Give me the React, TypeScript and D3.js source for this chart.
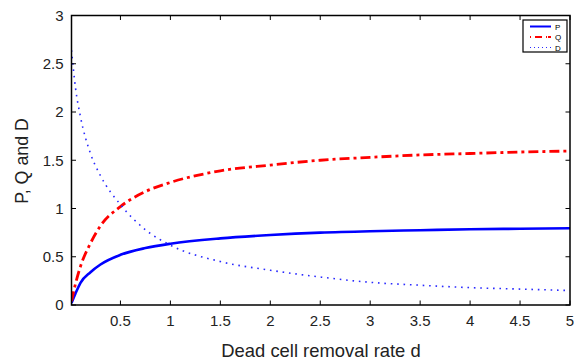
import React, { useEffect, useRef } from 'react';
import * as d3 from 'd3';

// values
const dValues = [0.01, 0.05, 0.1, 0.2, 0.3, 0.5, 0.75, 1, 1.5, 2, 2.5, 3, 3.5, 4, 4.5, 5];
const pValues = [0.02, 0.12, 0.23, 0.34, 0.42, 0.52, 0.59, 0.635, 0.69, 0.725, 0.75, 0.765, 0.775, 0.785, 0.79, 0.795];
const qValues = [0.04, 0.22, 0.4, 0.64, 0.82, 1.02, 1.175, 1.27, 1.39, 1.45, 1.5, 1.53, 1.555, 1.57, 1.585, 1.595];
const dDead = [2.64, 2.25, 1.95, 1.57, 1.34, 1.04, 0.78, 0.62, 0.45, 0.36, 0.29, 0.235, 0.205, 0.18, 0.165, 0.15];

const xTicks = [0.5, 1, 1.5, 2, 2.5, 3, 3.5, 4, 4.5, 5];
const yTicks = [0, 0.5, 1, 1.5, 2, 2.5, 3];

const seriesNames = ['P', 'Q', 'D'];

const W = 574;
const H = 360;

export default function App() {
  const svgRef = useRef<SVGSVGElement>(null);

  useEffect(() => {
    if (!svgRef.current) return;
    const svg = d3.select(svgRef.current);
    svg.selectAll('*').remove();

    const left = 71.5;
    const right = 570;
    const top = 15.5;
    const bottom = 305;

    const x = d3.scaleLinear().domain([0.01, 5]).range([left, right]);
    const y = d3.scaleLinear().domain([0, 3]).range([bottom, top]);
    const font = 'Liberation Sans, Arial, Helvetica, sans-serif';

    const styles = [
      { color: '#0000ff', width: 2.6, dash: null as string | null, values: pValues },
      { color: '#ff0000', width: 2.8, dash: '10,4,3,4', values: qValues },
      { color: '#2a2aff', width: 1.6, dash: '1.6,4.8', values: dDead },
    ];

    const clip = svg.append('clipPath').attr('id', 'plotClip');
    clip.append('rect').attr('x', left).attr('y', top).attr('width', right - left).attr('height', bottom - top);

    const line = d3
      .line<number>()
      .x((_, i) => x(dValues[i]))
      .y(v => y(v))
      .curve(d3.curveMonotoneX);

    const plot = svg.append('g').attr('clip-path', 'url(#plotClip)');
    styles.forEach(s => {
      plot
        .append('path')
        .datum(s.values)
        .attr('d', line)
        .attr('fill', 'none')
        .attr('stroke', s.color)
        .attr('stroke-width', s.width)
        .attr('stroke-dasharray', s.dash);
    });

    // box
    svg
      .append('rect')
      .attr('x', left)
      .attr('y', top)
      .attr('width', right - left)
      .attr('height', bottom - top)
      .attr('fill', 'none')
      .attr('stroke', '#000')
      .attr('stroke-width', 1.5);

    const tickLen = 4.5;
    xTicks.forEach(t => {
      const xp = x(t);
      svg.append('line').attr('x1', xp).attr('x2', xp).attr('y1', bottom).attr('y2', bottom - tickLen).attr('stroke', '#000');
      svg.append('line').attr('x1', xp).attr('x2', xp).attr('y1', top).attr('y2', top + tickLen).attr('stroke', '#000');
      svg
        .append('text')
        .attr('x', xp)
        .attr('y', 326)
        .attr('text-anchor', 'middle')
        .attr('font-family', font)
        .attr('font-size', 15)
        .attr('fill', '#222')
        .text(String(t));
    });

    yTicks.forEach(t => {
      const yp = y(t);
      svg.append('line').attr('x1', left).attr('x2', left + tickLen).attr('y1', yp).attr('y2', yp).attr('stroke', '#000');
      svg.append('line').attr('x1', right).attr('x2', right - tickLen).attr('y1', yp).attr('y2', yp).attr('stroke', '#000');
      svg
        .append('text')
        .attr('x', 63.5)
        .attr('y', yp + 5.3)
        .attr('text-anchor', 'end')
        .attr('font-family', font)
        .attr('font-size', 15)
        .attr('fill', '#222')
        .text(String(t));
    });

    // axis titles
    svg
      .append('text')
      .attr('x', 321)
      .attr('y', 357)
      .attr('text-anchor', 'middle')
      .attr('font-family', font)
      .attr('font-size', 18.4)
      .attr('fill', '#222')
      .text('Dead cell removal rate d');

    svg
      .append('text')
      .attr('transform', `translate(27.5, 161) rotate(-90)`)
      .attr('text-anchor', 'middle')
      .attr('font-family', font)
      .attr('font-size', 17.8)
      .attr('fill', '#222')
      .text('P, Q and D');

    // legend
    const lg = svg.append('g').attr('transform', 'translate(523, 20)');
    lg.append('rect').attr('width', 44).attr('height', 32).attr('fill', '#fff').attr('stroke', '#000').attr('stroke-width', 1.2);
    seriesNames.forEach((name, i) => {
      const ly = 6.5 + i * 10.5;
      const s = styles[i];
      lg.append('line')
        .attr('x1', 7)
        .attr('x2', 28)
        .attr('y1', ly)
        .attr('y2', ly)
        .attr('stroke', s.color)
        .attr('stroke-width', i === 2 ? 1 : 2)
        .attr('stroke-dasharray', i === 1 ? '1,4,7,4,1' : i === 2 ? '1,3' : null);
      lg.append('text')
        .attr('x', 32)
        .attr('y', ly + 3)
        .attr('font-family', font)
        .attr('font-size', 8)
        .attr('fill', '#000')
        .text(name);
    });
  }, []);

  return (
    <svg
      ref={svgRef}
      width={W}
      height={H}
      style={{ position: 'absolute', left: 0, top: 0, background: '#fff' }}
    />
  );
}
